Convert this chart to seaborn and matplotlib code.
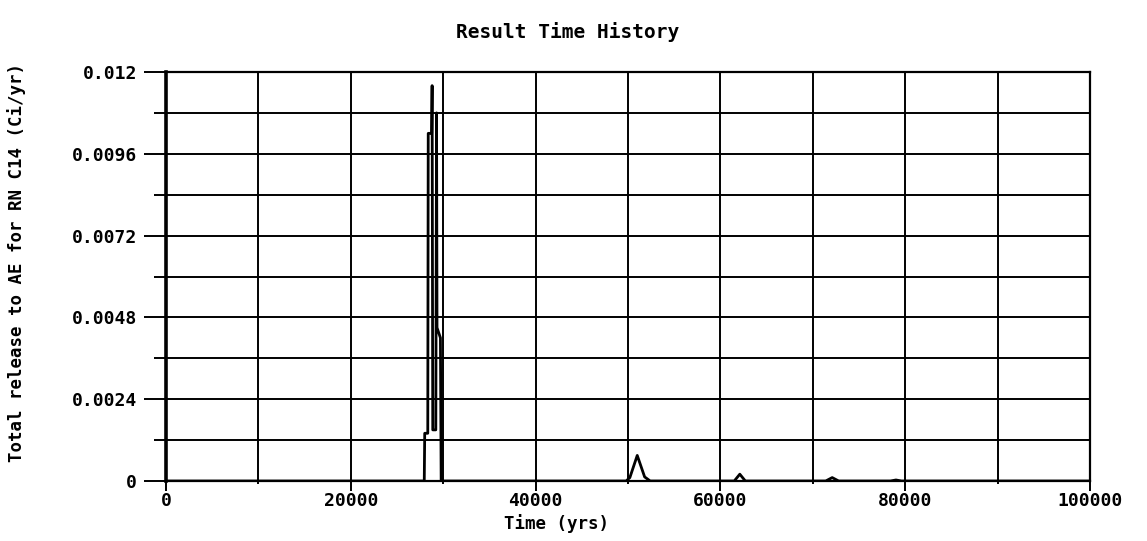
import matplotlib
matplotlib.use("Agg")
import matplotlib.pyplot as plt
import seaborn as sns

# ---- data ----
time_yrs = [0, 27950, 28000, 28330, 28380, 28750, 28800, 28870, 29200, 29280,
            29330, 29700, 29780, 49800, 50200, 51000, 51800, 52400,
            61500, 62100, 62700, 71400, 72100, 72800, 78400, 79000, 79600, 100000]
release = [0, 0, 0.0014, 0.0014, 0.0102, 0.0102, 0.0116, 0.0015, 0.0015, 0.0108,
           0.0045, 0.0042, 0, 0, 0.0001, 0.00075, 0.00012, 0,
           0, 0.0002, 0, 0, 0.0001, 0, 0, 0.00003, 0, 0]

x_major = [0, 20000, 40000, 60000, 80000, 100000]
x_major_labels = ["0", "20000", "40000", "60000", "80000", "100000"]
x_minor = [10000, 30000, 50000, 70000, 90000]
y_major = [0, 0.0024, 0.0048, 0.0072, 0.0096, 0.012]
y_major_labels = ["0", "0.0024", "0.0048", "0.0072", "0.0096", "0.012"]
y_minor = [0.0012, 0.0036, 0.006, 0.0084, 0.0108]

title = "Result Time History"
xlabel = "Time (yrs)"
ylabel = "Total release to AE for RN C14 (Ci/yr)"

sns.set_style("white")
plt.rcParams["font.family"] = ["DejaVu Sans Mono", "DejaVu Sans"]
plt.rcParams["font.weight"] = "bold"
plt.rcParams["text.color"] = "black"
plt.rcParams["xtick.color"] = "black"
plt.rcParams["ytick.color"] = "black"
plt.rcParams["axes.labelcolor"] = "black"

W, H = 1147, 541
fig = plt.figure(figsize=(W / 100, H / 100), dpi=100)
L, R, T, B = 166, 1090, 72, 481
ax = fig.add_axes([L / W, 1 - B / H, (R - L) / W, (B - T) / H])

sns.lineplot(x=time_yrs, y=release, ax=ax, color="black", linewidth=2.0,
             estimator=None, sort=False)

ax.set_xlim(0, 100000)
ax.set_ylim(0, 0.012)
ax.set_xticks(x_major)
ax.set_xticklabels(x_major_labels)
ax.set_xticks(x_minor, minor=True)
ax.set_yticks(y_major)
ax.set_yticklabels(y_major_labels)
ax.set_yticks(y_minor, minor=True)

ax.grid(which="both", color="black", linewidth=1.4)
ax.set_axisbelow(True)

ax.tick_params(axis="y", which="major", length=16, width=1.4, color="black",
               labelcolor="black", direction="out", pad=5, labelsize=13, left=True)
ax.tick_params(axis="y", which="minor", length=9, width=1.4, color="black",
               direction="out", left=True)
ax.tick_params(axis="x", which="major", length=7, width=1.4, color="black",
               labelcolor="black", direction="out", pad=1, labelsize=13, bottom=True)
ax.tick_params(axis="x", which="minor", length=2, width=1.4, color="black",
               direction="out", bottom=True)
for lab in ax.get_xticklabels() + ax.get_yticklabels():
    lab.set_fontweight("bold")

for name, sp in ax.spines.items():
    sp.set_visible(True)
    sp.set_color("black")
    sp.set_linewidth(1.6)
ax.spines["left"].set_linewidth(2.6)

ax.set_xlabel("")
ax.set_ylabel("")

fig.text(568 / W, 1 - 32 / H, title, ha="center", va="center",
         fontsize=14, fontweight="bold", color="black")
fig.text(556 / W, 1 - 524 / H, xlabel, ha="center", va="center",
         fontsize=12.5, fontweight="bold", color="black")
fig.text(17 / W, 1 - 263 / H, ylabel, ha="center", va="center",
         rotation=90, fontsize=12.5, fontweight="bold", color="black")

fig.savefig("out.png", dpi=100, facecolor="white")
